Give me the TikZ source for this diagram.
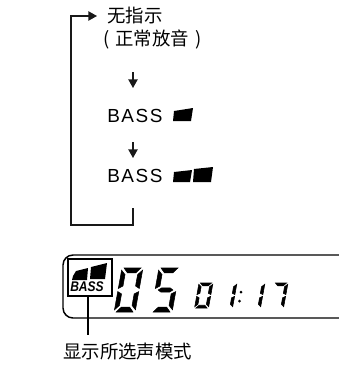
\documentclass[tikz,border=0pt]{standalone}
\usepackage{fontspec}
\setmainfont{Liberation Sans}
\newfontfamily\cjk{Noto Sans CJK SC}
\usetikzlibrary{arrows.meta}
\tikzset{
	flowline/.style={line width=1pt,color=black!90},
	flowtip/.style={-{Triangle[length=6.5pt,width=7pt]}},
	cjklabel/.style={inner sep=0pt,font=\cjk\fontsize{13.8}{16}\selectfont},
	basstext/.style={inner sep=0pt,font=\fontsize{14.2}{16}\selectfont},
	lcdline/.style={line width=1.1pt},
	lcdseg/.style={every path/.append style={draw,line width=0.4pt}},
}
% segments of one lcd digit, in a cell of 10 by 20
\def\sega{(1,0) -- (9,0) -- (7,2.2) -- (3,2.2) -- cycle}
\def\segb{(10,1) -- (10,9.3) -- (8,8.2) -- (8,3) -- cycle}
\def\segc{(10,10.7) -- (10,19) -- (8,17) -- (8,11.8) -- cycle}
\def\segd{(1,20) -- (9,20) -- (7,17.8) -- (3,17.8) -- cycle}
\def\sege{(0,10.7) -- (0,19) -- (2,17) -- (2,11.8) -- cycle}
\def\segf{(0,1) -- (0,9.3) -- (2,8.2) -- (2,3) -- cycle}
\def\segg{(1.5,10) -- (3,9) -- (7,9) -- (8.5,10) -- (7,11) -- (3,11) -- cycle}
\def\lcddigit[#1](#2,#3)#4{\begin{scope}[shift={(#2,#3)},xslant=0.18,lcdseg,#1]
	\foreach \s in {#4} {\expandafter\fill\csname seg\s\endcsname;}
\end{scope}}
\begin{document}
\begin{tikzpicture}[x=0.75pt,y=-0.75pt]
		\useasboundingbox (0,0) rectangle (339,365);
		
		\node[cjklabel,anchor=west] (none) at (107,15.5) {无指示};
		\node[cjklabel,anchor=west] (normal) at (103,39) {(\hspace{4.5pt}正常放音\hspace{4.5pt})};
		\node[basstext,anchor=west] (bassone) at (107,116) {B\kern1.2pt A\kern1.2pt S\kern1.2pt S};
		\node[basstext,anchor=west] (basstwo) at (107,176) {B\kern1.2pt A\kern1.2pt S\kern1.2pt S};
		\node[cjklabel,anchor=west] (caption) at (63,352) {显示所选声模式};
		
		% loop back to the top
		\coordinate (loopstart) at (133,208);
		\coordinate (loopend) at (97,16);
		\draw[flowline,flowtip] (loopstart) -- (133,225) -- (71,225) -- (71,16) -- (loopend);
		
		\coordinate (stepa) at (133,72);
		\coordinate (stepb) at (133,88);
		\coordinate (stepc) at (133,142);
		\coordinate (stepd) at (133,158);
		\draw[flowline,flowtip] (stepa) -- (stepb);
		\draw[flowline,flowtip] (stepc) -- (stepd);
		
		\fill (174,111) -- (193,108) -- (191,121) -- (173,121) -- cycle;
		\fill (174,172) -- (192,170) -- (190,182) -- (173,182) -- cycle;
		\fill (194,169) -- (213,167) -- (211,182) -- (193,182) -- cycle;
		
		% display
		\draw[lcdline] (339,255) -- (73,255) arc (-90:-180:10) -- (63,308) arc (180:90:10) -- (339,318);
		
		\node[draw,line width=1.8pt,minimum width=33pt,minimum height=28pt,inner sep=0pt] (bassbox) at (90,277.5) {};
		\node[inner sep=0pt,xscale=0.86,font=\bfseries\itshape\fontsize{10.5}{12}\selectfont] (basslabel) at (87,286.5) {BASS};
		\fill (73,276) -- (76,271) -- (88,268) -- (87,280) -- (72,280) -- cycle;
		\fill (91,267) -- (107,263) -- (105,279) -- (90,279) -- cycle;
		\coordinate (leaderend) at (88,335);
		\draw[line width=2pt] (bassbox.south -| leaderend) -- (leaderend);
		
		\lcddigit[x=2.1*0.75pt,y=-2.2*0.75pt](122,268){a,b,c,d,e,f}
		\lcddigit[x=2.1*0.75pt,y=-2.2*0.75pt](159,268){a,c,d,f,g}
		
		\lcddigit[x=1.4*0.75pt,y=-1.25*0.75pt](199,283){a,b,c,d,e,f}
		\lcddigit[x=1.4*0.75pt,y=-1.25*0.75pt](223,283){b,c}
		\fill (241,292) circle (1.5);
		\fill (239.5,301) circle (1.5);
		\lcddigit[x=1.4*0.75pt,y=-1.25*0.75pt](251,283){b,c}
		\lcddigit[x=1.4*0.75pt,y=-1.25*0.75pt](274,283){a,b,c}
\end{tikzpicture}
\end{document}
